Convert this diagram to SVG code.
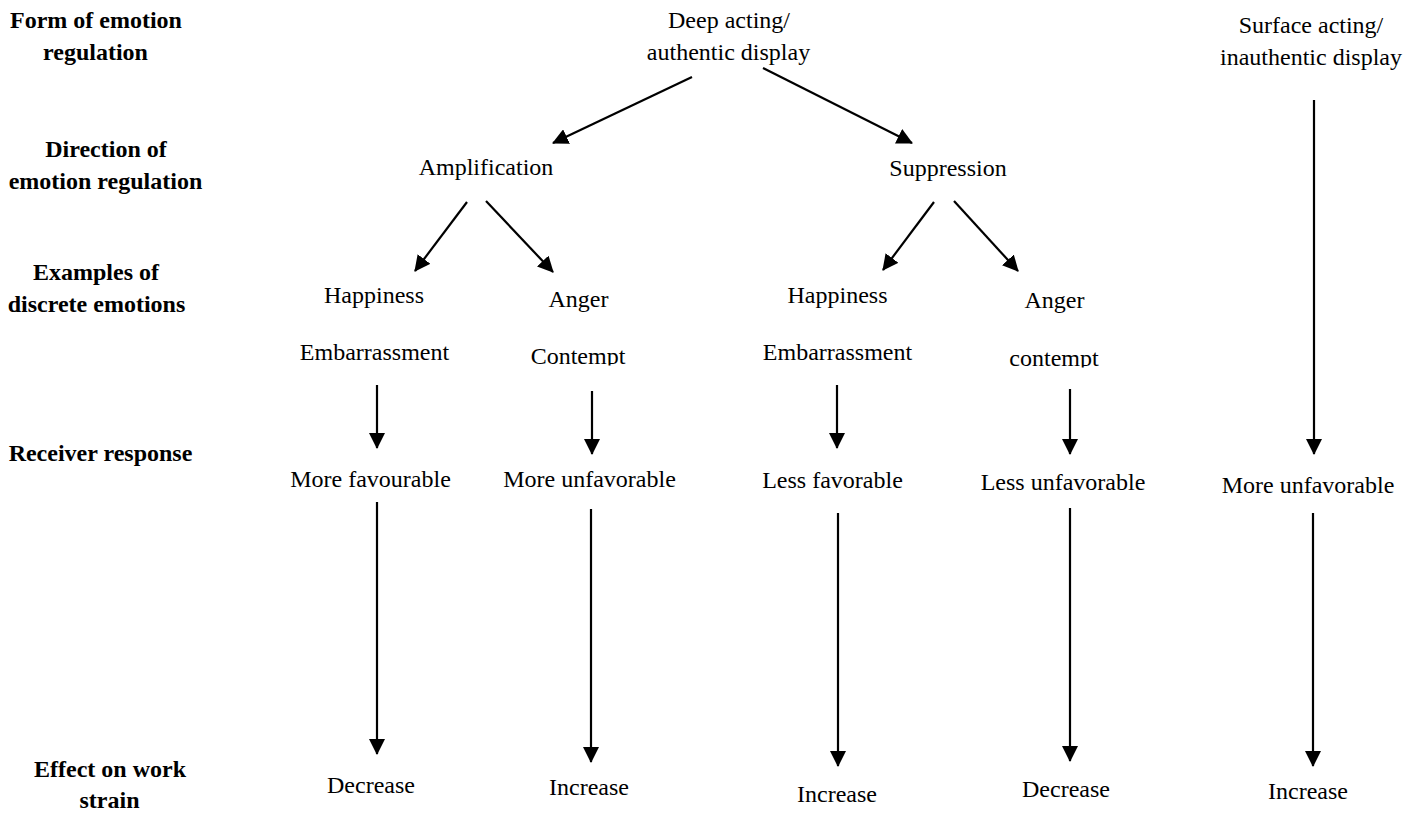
<svg xmlns="http://www.w3.org/2000/svg" width="1419" height="814" viewBox="0 0 1419 814">
  <style>
    text { font-family: "Liberation Serif", "Times New Roman", serif; font-size: 24px; fill: #000; text-anchor: middle; }
    .lbl { font-weight: bold; }
    .conn { stroke: #000; stroke-width: 2.2; fill: none; marker-end: url(#head); }
  </style>
  <defs>
    <marker id="head" markerUnits="userSpaceOnUse" viewBox="0 0 16 16" refX="15" refY="8" markerWidth="16" markerHeight="16" orient="auto">
      <path d="M0,0 L16,8 L0,16 z" fill="#000"/>
    </marker>
    <clipPath id="cutL"><rect x="500" y="330" width="160" height="35.5"/></clipPath>
    <clipPath id="cutR"><rect x="980" y="330" width="160" height="37.5"/></clipPath>
  </defs>
  <rect width="1419" height="814" fill="#fff"/>

  <!-- row labels -->
  <g id="labels">
    <text class="lbl" x="96" y="28">Form of emotion</text>
    <text class="lbl" x="95.5" y="60">regulation</text>
    <text class="lbl" x="106" y="157">Direction of</text>
    <text class="lbl" x="105.5" y="189">emotion regulation</text>
    <text class="lbl" x="96" y="280">Examples of</text>
    <text class="lbl" x="96.5" y="312">discrete emotions</text>
    <text class="lbl" x="100.5" y="461">Receiver response</text>
    <text class="lbl" x="110" y="777">Effect on work</text>
    <text class="lbl" x="109.5" y="808">strain</text>
  </g>

  <!-- regulation forms -->
  <g id="deep-acting">
    <text x="729" y="28">Deep acting/</text>
    <text x="728.5" y="60">authentic display</text>
  </g>
  <g id="surface-acting">
    <text x="1311" y="33">Surface acting/</text>
    <text x="1311" y="65">inauthentic display</text>
  </g>

  <!-- directions -->
  <g id="amplification"><text x="486" y="175">Amplification</text></g>
  <g id="suppression"><text x="948" y="176">Suppression</text></g>

  <!-- discrete emotions -->
  <g id="amp-happiness">
    <text x="374" y="303">Happiness</text>
    <text x="374.5" y="360">Embarrassment</text>
  </g>
  <g id="amp-anger">
    <text x="578.5" y="307">Anger</text>
    <text x="578" y="364" clip-path="url(#cutL)">Contempt</text>
  </g>
  <g id="sup-happiness">
    <text x="837.5" y="303">Happiness</text>
    <text x="837.5" y="360">Embarrassment</text>
  </g>
  <g id="sup-anger">
    <text x="1054.5" y="308">Anger</text>
    <text x="1054" y="366" clip-path="url(#cutR)">contempt</text>
  </g>

  <!-- receiver responses -->
  <g id="resp-1"><text x="370.5" y="487">More favourable</text></g>
  <g id="resp-2"><text x="589.5" y="487">More unfavorable</text></g>
  <g id="resp-3"><text x="832.5" y="488">Less favorable</text></g>
  <g id="resp-4"><text x="1063" y="490">Less unfavorable</text></g>
  <g id="resp-5"><text x="1308" y="493">More unfavorable</text></g>

  <!-- effects on work strain -->
  <g id="strain-1"><text x="371" y="793">Decrease</text></g>
  <g id="strain-2"><text x="589" y="795">Increase</text></g>
  <g id="strain-3"><text x="837" y="802">Increase</text></g>
  <g id="strain-4"><text x="1066" y="797">Decrease</text></g>
  <g id="strain-5"><text x="1308" y="799">Increase</text></g>

  <!-- connectors -->
  <g id="connectors">
    <path class="conn" d="M692,77 L553,143"/>
    <path class="conn" d="M763,68 L912,143"/>
    <path class="conn" d="M467,202 L415,271"/>
    <path class="conn" d="M486,201 L553,272"/>
    <path class="conn" d="M934,202 L883,270"/>
    <path class="conn" d="M954,201 L1018,271"/>
    <path class="conn" d="M377,385 L377,448"/>
    <path class="conn" d="M592,391 L592,454"/>
    <path class="conn" d="M837,385 L837,448"/>
    <path class="conn" d="M1070,389 L1070,454"/>
    <path class="conn" d="M1314,100 L1314,454"/>
    <path class="conn" d="M377,502 L377,754"/>
    <path class="conn" d="M591,509 L591,762"/>
    <path class="conn" d="M838,513 L838,766"/>
    <path class="conn" d="M1070,508 L1070,761"/>
    <path class="conn" d="M1313,513 L1313,766"/>
  </g>
</svg>
